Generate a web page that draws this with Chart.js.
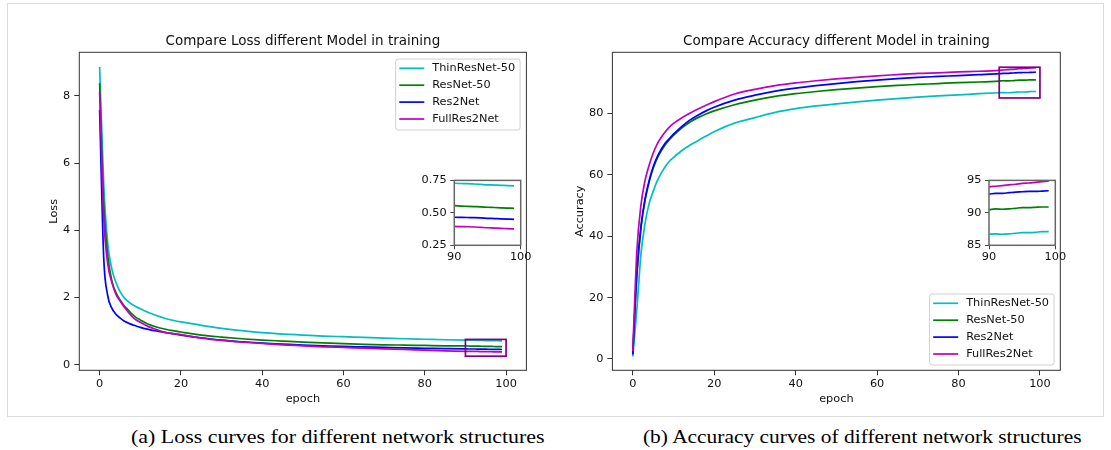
<!DOCTYPE html>
<html>
<head>
<meta charset="utf-8">
<script src="https://cdn.jsdelivr.net/npm/chart.js@4.4.0/dist/chart.umd.min.js"></script>
<style>
  html, body { margin: 0; padding: 0; background: #fff; }
  body { width: 1111px; height: 450px; position: relative; overflow: hidden; }
  canvas { position: absolute; }
  #frame { position: absolute; left: 7px; top: 3px; width: 1097px; height: 414px; border: 1px solid #dcdcdc; box-sizing: border-box; }
  .caption { position: absolute; top: 427px; font-family: 'Liberation Serif', serif; font-size: 18px; line-height: 20px; color: #000; white-space: nowrap; transform-origin: center center; }
</style>
</head>
<body>
<div id="frame"></div>
<canvas id="loss-chart" width="560" height="420" style="left:0;top:0"></canvas>
<canvas id="acc-chart" width="551" height="420" style="left:560px;top:0"></canvas>
<canvas id="loss-inset" width="120" height="95" style="left:415px;top:170px"></canvas>
<canvas id="acc-inset" width="120" height="95" style="left:950px;top:170px"></canvas>
<div class="caption" id="cap-a" data-center="337.5" data-width="413.6">(a) Loss curves for different network structures</div>
<div class="caption" id="cap-b" data-center="862.5" data-width="438.4">(b) Accuracy curves of different network structures</div>
<script>
var epochs = [0, 1, 2, 3, 4, 5, 6, 7, 8, 9, 10, 12, 14, 16, 18, 20, 25, 30, 35, 40, 45, 50, 55, 60, 65, 70, 75, 80, 85,
    90, 91, 92, 93, 94, 95, 96, 97, 98, 99];

var modelNames = ['ThinResNet-50', 'ResNet-50', 'Res2Net', 'FullRes2Net'];
var modelColors = ['#00bfbf', '#008000', '#0000ff', '#bf00bf'];

var thinLoss = [8.86, 5.4, 3.6, 2.85, 2.45, 2.18, 2.0, 1.88, 1.79, 1.72, 1.66, 1.55, 1.46, 1.38, 1.32, 1.27,
    1.17, 1.08, 1.01, 0.95, 0.91, 0.88, 0.85, 0.83, 0.81, 0.79, 0.77, 0.755, 0.74,
    0.728, 0.726, 0.725, 0.722, 0.719, 0.716, 0.714, 0.712, 0.710, 0.708];
var resLoss = [8.38, 4.8, 3.25, 2.5, 2.15, 1.93, 1.76, 1.63, 1.5, 1.4, 1.33, 1.2, 1.12, 1.06, 1.01, 0.97,
    0.88, 0.82, 0.77, 0.73, 0.70, 0.67, 0.645, 0.625, 0.605, 0.59, 0.58, 0.57, 0.56,
    0.555, 0.552, 0.55, 0.548, 0.546, 0.543, 0.541, 0.539, 0.537, 0.535];
var res2Loss = [7.58, 3.2, 2.05, 1.68, 1.5, 1.39, 1.3, 1.24, 1.19, 1.15, 1.11, 1.05, 1.0, 0.96, 0.92, 0.88,
    0.8, 0.73, 0.68, 0.64, 0.61, 0.58, 0.56, 0.54, 0.525, 0.51, 0.495, 0.485, 0.475,
    0.466, 0.465, 0.464, 0.463, 0.461, 0.458, 0.456, 0.454, 0.452, 0.45];
var fullLoss = [8.13, 4.4, 3.0, 2.45, 2.1, 1.9, 1.72, 1.57, 1.43, 1.33, 1.26, 1.13, 1.04, 0.96, 0.92, 0.89,
    0.79, 0.72, 0.67, 0.63, 0.59, 0.56, 0.53, 0.51, 0.49, 0.47, 0.45, 0.43, 0.41,
    0.396, 0.394, 0.393, 0.391, 0.388, 0.385, 0.383, 0.381, 0.378, 0.376];

var thinAcc = [0.8, 16, 34, 44, 50.5, 54.5, 58, 60.5, 62.7, 64.4, 65.6, 67.8, 69.6, 71.1, 72.6, 74.0,
    76.8, 78.6, 80.3, 81.5, 82.4, 83.1, 83.7, 84.3, 84.8, 85.3, 85.7, 86.0, 86.4,
    86.7, 86.75, 86.7, 86.75, 86.85, 86.95, 86.95, 87.0, 87.1, 87.1];
var resAcc = [1.5, 27, 42.5, 51.5, 57.5, 62, 65.3, 67.8, 69.8, 71.4, 72.8, 75.2, 77.1, 78.6, 79.8, 80.8,
    82.8, 84.3, 85.5, 86.4, 87.1, 87.7, 88.2, 88.7, 89.1, 89.4, 89.7, 90.0, 90.2,
    90.5, 90.6, 90.55, 90.6, 90.7, 90.8, 90.8, 90.85, 90.9, 90.9];
var res2Acc = [1.5, 28, 43, 52, 58, 62.5, 65.8, 68.3, 70.3, 71.8, 73.2, 75.7, 77.8, 79.4, 80.8, 82.0,
    84.3, 85.9, 87.2, 88.2, 89.0, 89.7, 90.3, 90.8, 91.3, 91.7, 92.0, 92.3, 92.6,
    92.9, 93.0, 93.0, 93.1, 93.2, 93.25, 93.3, 93.3, 93.35, 93.4];
var fullAcc = [2.5, 35, 50, 58, 63, 67, 70, 72.2, 74.0, 75.5, 76.7, 78.5, 80.0, 81.4, 82.6, 83.8,
    86.3, 87.8, 89.0, 89.9, 90.6, 91.2, 91.7, 92.2, 92.6, 93.0, 93.2, 93.5, 93.7,
    94.0, 94.1, 94.2, 94.3, 94.4, 94.55, 94.6, 94.7, 94.8, 94.9];

var epochTicks = [0, 20, 40, 60, 80, 100];
var lossTicks = [0, 2, 4, 6, 8];
var accTicks = [0, 20, 40, 60, 80];
var zoomEpochTicks = [90, 100];
var lossZoomTicks = [0.25, 0.5, 0.75];
var accZoomTicks = [85, 90, 95];
// zoomed window: [epoch from, epoch to, value from, value to]
var lossZoom = [90, 100, 0.25, 0.75];
var accZoom = [90, 100, 85, 95];

Chart.defaults.font.family = '"DejaVu Sans", sans-serif';
Chart.defaults.color = '#111';

function makeDatasets(series, width) {
    return series.map(function (values, i) {
        return {
            label: modelNames[i],
            data: values.map(function (v, k) { return {x: epochs[k], y: v}; }),
            borderColor: modelColors[i],
            backgroundColor: modelColors[i],
            borderWidth: width,
            pointRadius: 0,
            fill: false,
            cubicInterpolationMode: 'monotone',
            order: series.length - 1 - i
        };
    });
}

function fixedTicks(list) {
    return function (scale) {
        scale.ticks = list.map(function (v) { return {value: v}; });
    };
}

var tickGrid = {drawOnChartArea: false, tickLength: 5, color: '#333', lineWidth: 1};

// white plot area and a full box round it, like matplotlib spines
var frameBox = {
    id: 'frameBox',
    beforeDraw: function (chart, args, opts) {
        var a = chart.chartArea, ctx = chart.ctx;
        ctx.save();
        ctx.fillStyle = '#fff';
        ctx.fillRect(a.left, a.top, a.right - a.left, a.bottom - a.top);
        ctx.restore();
    },
    afterDraw: function (chart, args, opts) {
        var a = chart.chartArea, ctx = chart.ctx;
        ctx.save();
        ctx.strokeStyle = opts.color || '#333';
        ctx.lineWidth = opts.width || 1;
        ctx.strokeRect(a.left, a.top, a.right - a.left, a.bottom - a.top);
        ctx.restore();
    }
};

var zoomRect = {
    id: 'zoomRect',
    afterDatasetsDraw: function (chart, args, opts) {
        if (!opts.range) return;
        var xs = chart.scales.x, ys = chart.scales.y, ctx = chart.ctx;
        var x0 = xs.getPixelForValue(opts.range[0]), x1 = xs.getPixelForValue(opts.range[1]);
        var y0 = ys.getPixelForValue(opts.range[3]), y1 = ys.getPixelForValue(opts.range[2]);
        ctx.save();
        ctx.strokeStyle = '#800080';
        ctx.lineWidth = 1.7;
        ctx.strokeRect(x0, y0, x1 - x0, y1 - y0);
        ctx.restore();
    }
};

var boxLegend = {
    id: 'boxLegend',
    afterDraw: function (chart, args, opts) {
        if (!opts.corner) return;
        var ctx = chart.ctx, a = chart.chartArea, sets = chart.data.datasets;
        ctx.save();
        ctx.font = '11.3px "DejaVu Sans"';
        var textW = 0;
        sets.forEach(function (d) { textW = Math.max(textW, ctx.measureText(d.label).width); });
        var rowH = 16.9;
        var w = 36.6 + textW + 5;
        var h = 9.3 + rowH * (sets.length - 1) + 11;
        var x = a.right - 6.3 - w;
        var y = opts.corner === 'upper' ? a.top + 6.7 : a.bottom - 5.3 - h;
        ctx.beginPath();
        ctx.roundRect(x, y, w, h, 2.5);
        ctx.fillStyle = 'rgba(255,255,255,0.8)';
        ctx.fill();
        ctx.strokeStyle = '#d0d0d0';
        ctx.lineWidth = 1;
        ctx.stroke();
        sets.forEach(function (d, i) {
            var cy = y + 9.3 + i * rowH;
            ctx.beginPath();
            ctx.moveTo(x + 3.6, cy);
            ctx.lineTo(x + 28.6, cy);
            ctx.strokeStyle = d.borderColor;
            ctx.lineWidth = 1.7;
            ctx.stroke();
            ctx.fillStyle = '#111';
            ctx.textBaseline = 'middle';
            ctx.fillText(d.label, x + 36.6, cy);
        });
        ctx.restore();
    }
};

function mainChart(id, cfg) {
    return new Chart(document.getElementById(id), {
        type: 'line',
        data: {datasets: makeDatasets(cfg.series, 1.7)},
        plugins: [frameBox, zoomRect, boxLegend],
        options: {
            responsive: false,
            animation: false,
            events: [],
            layout: {padding: {top: 0, left: 0, bottom: 0, right: cfg.padRight}},
            plugins: {
                legend: {display: false},
                tooltip: {enabled: false},
                title: {
                    display: true,
                    text: cfg.title,
                    fullSize: false,
                    color: '#111',
                    font: {size: 13.5, weight: 'normal'},
                    padding: {top: 33.6, bottom: 2.5}
                },
                frameBox: {color: '#333', width: 1},
                zoomRect: {range: cfg.zoom},
                boxLegend: {corner: cfg.legendCorner}
            },
            scales: {
                x: {
                    type: 'linear',
                    min: -5,
                    max: 105,
                    afterBuildTicks: fixedTicks(epochTicks),
                    afterFit: function (scale) { scale.height = 49.7; },
                    grid: tickGrid,
                    border: {display: false},
                    ticks: {font: {size: 11.3}, padding: 2, maxRotation: 0, autoSkip: false},
                    title: {display: true, text: 'epoch', font: {size: 11.3}, padding: {top: 0, bottom: 14.2}}
                },
                y: {
                    type: 'linear',
                    min: cfg.yMin,
                    max: cfg.yMax,
                    afterBuildTicks: fixedTicks(cfg.yTicks),
                    afterFit: function (scale) { scale.width = cfg.yWidth; },
                    grid: tickGrid,
                    border: {display: false},
                    ticks: {font: {size: 11.3}, padding: 4, autoSkip: false},
                    title: {display: true, text: cfg.yTitle, font: {size: 11.3}, padding: {top: cfg.yTitlePad, bottom: 0}}
                }
            }
        }
    });
}

function insetChart(id, cfg) {
    return new Chart(document.getElementById(id), {
        type: 'line',
        data: {datasets: makeDatasets(cfg.series, 1.7)},
        plugins: [frameBox],
        options: {
            responsive: false,
            animation: false,
            events: [],
            layout: {padding: {top: 9, left: 0, bottom: 0, right: cfg.padRight}},
            plugins: {
                legend: {display: false},
                tooltip: {enabled: false},
                frameBox: {color: '#666', width: 1.5}
            },
            scales: {
                x: {
                    type: 'linear',
                    min: 90,
                    max: 100,
                    afterBuildTicks: fixedTicks(zoomEpochTicks),
                    afterFit: function (scale) { scale.height = 19.7; },
                    grid: {drawOnChartArea: false, tickLength: 4, color: '#444', lineWidth: 1},
                    border: {display: false},
                    ticks: {font: {size: 11.3}, padding: 1, maxRotation: 0, autoSkip: false}
                },
                y: {
                    type: 'linear',
                    min: cfg.yTicks[0],
                    max: cfg.yTicks[cfg.yTicks.length - 1],
                    afterBuildTicks: fixedTicks(cfg.yTicks),
                    afterFit: function (scale) { scale.width = cfg.yWidth; },
                    grid: {drawOnChartArea: false, tickLength: 4, color: '#444', lineWidth: 1},
                    border: {display: false},
                    ticks: {
                        font: {size: 11.3},
                        padding: 3.6,
                        autoSkip: false,
                        callback: function (v) { return v.toFixed(cfg.decimals); }
                    }
                }
            }
        }
    });
}

mainChart('loss-chart', {
    series: [thinLoss, resLoss, res2Loss, fullLoss],
    title: 'Compare Loss different Model in training',
    yTitle: 'Loss',
    yTitlePad: 46.8,
    yTicks: lossTicks,
    yMin: -0.17,
    yMax: 9.3,
    yWidth: 79.3,
    padRight: 33.6,
    zoom: lossZoom,
    legendCorner: 'upper'
});

mainChart('acc-chart', {
    series: [thinAcc, resAcc, res2Acc, fullAcc],
    title: 'Compare Accuracy different Model in training',
    yTitle: 'Accuracy',
    yTitlePad: 13.2,
    yTicks: accTicks,
    yMin: -3.68,
    yMax: 99.87,
    yWidth: 52.4,
    padRight: 50.7,
    zoom: accZoom,
    legendCorner: 'lower'
});

insetChart('loss-inset', {
    series: [thinLoss, resLoss, res2Loss, fullLoss],
    yTicks: lossZoomTicks,
    decimals: 2,
    yWidth: 39.3,
    padRight: 14.3
});

insetChart('acc-inset', {
    series: [thinAcc, resAcc, res2Acc, fullAcc],
    yTicks: accZoomTicks,
    decimals: 0,
    yWidth: 39,
    padRight: 14.7
});

// captions: serif text stretched to the measured width
document.querySelectorAll('.caption').forEach(function (el) {
    var w = el.getBoundingClientRect().width;
    var target = parseFloat(el.dataset.width);
    el.style.left = (parseFloat(el.dataset.center) - w / 2) + 'px';
    el.style.transform = 'scaleX(' + (target / w).toFixed(3) + ')';
});
</script>
</body>
</html>
